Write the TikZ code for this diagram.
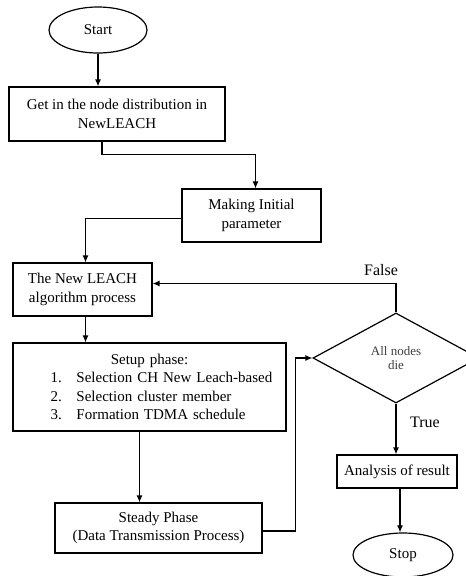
\documentclass[tikz,border=0pt]{standalone}
\usepackage{fontspec}
\setmainfont{Liberation Serif}
\usetikzlibrary{shapes.geometric,arrows.meta,positioning,calc}

\begin{document}
\begin{tikzpicture}[
    x=1pt,y=-1pt,
    >={Latex[length=7pt,width=6pt]},
    line width=1.2pt,
    stepbox/.style={draw,rectangle,align=center,inner sep=2pt,font=\fontsize{15}{18.5}\selectfont},
    terminal/.style={draw,ellipse,inner sep=0pt,font=\fontsize{15}{18}\selectfont},
    decision/.style={draw,diamond,inner sep=0pt,align=center,text=black!75,font=\fontsize{13}{14.5}\selectfont},
    flowlabel/.style={font=\fontsize{16}{18}\selectfont}
]
    \useasboundingbox (0,0) rectangle (466,576);

    % Start
    \node[terminal,minimum width=98pt,minimum height=46pt] (start) at (98,30) {Start};

    % Initialisation
    \node[stepbox,minimum width=216pt,minimum height=54pt] (dist) at (117,114) {Get in the node distribution in\\NewLEACH};
    \node[stepbox,minimum width=139pt,minimum height=53pt] (init) at (251.5,215.5) {Making Initial\\parameter};

    % Main process
    \node[stepbox,minimum width=139pt,minimum height=53pt] (algo) at (82.5,289.5) {The New LEACH\\algorithm process};
    \node[stepbox,minimum width=273pt,minimum height=88pt,text width=264pt,align=left] (setup) at (149.5,387) {%
        \makebox[264pt][c]{Setup phase:}\\
        \hspace*{33pt}\makebox[26pt][l]{1.}Selection CH New Leach-based\\
        \hspace*{33pt}\makebox[26pt][l]{2.}Selection cluster member\\
        \hspace*{33pt}\makebox[26pt][l]{3.}Formation TDMA schedule};
    \node[stepbox,minimum width=207pt,minimum height=50pt] (steady) at (158.5,528) {Steady Phase\\(Data Transmission Process)};

    % Decision and end
    \node[decision,minimum width=166pt,minimum height=90pt] (die) at (396,358) {All nodes\\die};
    \node[stepbox,minimum width=120pt,minimum height=33pt] (result) at (397,471.5) {Analysis of result};
    \node[terminal,minimum width=100pt,minimum height=44pt] (stop) at (403,555) {Stop};

    % Connections
    \draw[->] (start.south) -- (start.south |- dist.north);
    \draw[->] ([xshift=-15pt]dist.south) -- ++(0,13) -| ([xshift=4pt]init.north);
    \draw[->] ([yshift=-3pt]init.west) -| ([xshift=3pt]algo.north);
    \draw[->] ([xshift=3pt]algo.south) -- ([xshift=3pt]algo.south |- setup.north);
    \draw[->] ([xshift=-10pt]setup.south) -- ([xshift=-10pt]setup.south |- steady.north);
    \draw[->] ([yshift=-3pt]steady.east) -- ++(33,0) |- (die.west);
    \draw[->] (die.north) |- ([yshift=6pt]algo.east);
    \draw[->] (die.south) -- (die.south |- result.north);
    \draw[->] ([xshift=3pt]result.south) -- ([xshift=3pt]result.south |- stop.north);

    % Labels
    \node[flowlabel] (lfalse) at (381,270) {False};
    \node[flowlabel] (ltrue) at (425,422) {True};
\end{tikzpicture}
\end{document}
